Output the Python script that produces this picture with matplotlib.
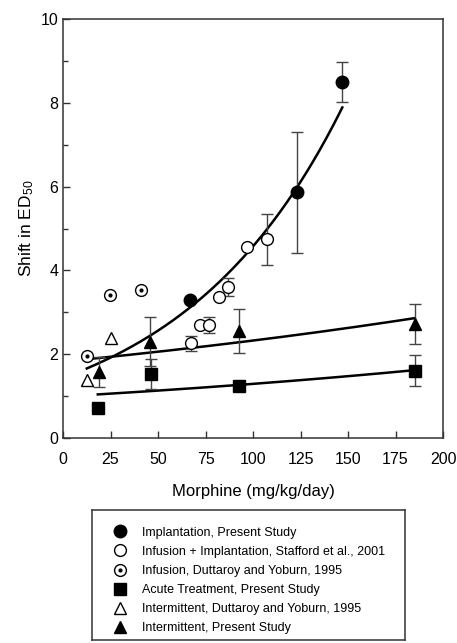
import numpy as np
import matplotlib
matplotlib.use("Agg")
import matplotlib.pyplot as plt
from matplotlib.ticker import MultipleLocator

plt.rcParams['font.family'] = ['Liberation Sans', 'DejaVu Sans']
plt.rcParams['mathtext.default'] = 'regular'

# Implantation, Present Study (filled circles)
impl_x = [67, 123, 147]
impl_y = [3.29, 5.86, 8.50]
impl_err = [0.0, 1.44, 0.48]

# Infusion + Implantation, Stafford et al., 2001 (open circles)
staf_x = [67.2, 72.1, 77.0, 82.3, 87.0, 97.0, 107.2]
staf_y = [2.26, 2.70, 2.70, 3.37, 3.60, 4.57, 4.74]
staf_err = [0.18, 0.0, 0.20, 0.0, 0.21, 0.0, 0.60]

# Infusion, Duttaroy and Yoburn, 1995 (dotted circles)
dutt_inf_x = [12.5, 24.7, 41.0]
dutt_inf_y = [1.96, 3.41, 3.53]

# Acute Treatment, Present Study (filled squares)
acute_x = [18.2, 46.2, 92.6, 185.3]
acute_y = [0.72, 1.52, 1.25, 1.61]
acute_err = [0.0, 0.36, 0.11, 0.37]

# Intermittent, Duttaroy and Yoburn, 1995 (open triangles)
dutt_int_x = [12.5, 25.1]
dutt_int_y = [1.38, 2.38]

# Intermittent, Present Study (filled triangles)
inter_x = [18.9, 45.8, 92.6, 185.3]
inter_y = [1.58, 2.30, 2.55, 2.72]
inter_err = [0.36, 0.58, 0.53, 0.48]

# fitted curves y = a*exp(b*x): (a, b, x_start, x_end)
fit_impl = (1.436, 0.01159, 12.5, 147)
fit_inter = (1.824, 0.002432, 12.5, 185)
fit_acute = (0.991, 0.002654, 18.3, 185)

fig = plt.figure(figsize=(4.57, 6.43), dpi=100)
ax = fig.add_axes([0.1379, 0.3188, 0.8315, 0.6516])

for a, b, x0, x1 in (fit_impl, fit_inter, fit_acute):
    xs = np.linspace(x0, x1, 200)
    ax.plot(xs, a * np.exp(b * xs), color='black', lw=1.8, zorder=2)

ekw = dict(fmt='none', ecolor='#444444', elinewidth=1.0, capsize=4.5, capthick=1.0, zorder=3)
ax.errorbar(impl_x, impl_y, yerr=impl_err, **ekw)
ax.errorbar(staf_x, staf_y, yerr=staf_err, **ekw)
ax.errorbar(acute_x, acute_y, yerr=acute_err, **ekw)
ax.errorbar(inter_x, inter_y, yerr=inter_err, **ekw)

h1, = ax.plot(impl_x, impl_y, 'o', ms=9, mfc='black', mec='black', ls='none', zorder=4)
h2, = ax.plot(staf_x, staf_y, 'o', ms=8.5, mfc='white', mec='black', mew=1.0, ls='none', zorder=4)
h3a, = ax.plot(dutt_inf_x, dutt_inf_y, 'o', ms=8.5, mfc='white', mec='black', mew=1.0, ls='none', zorder=4)
h3b, = ax.plot(dutt_inf_x, dutt_inf_y, 'o', ms=2, mfc='black', mec='black', ls='none', zorder=5)
h4, = ax.plot(acute_x, acute_y, 's', ms=8, mfc='black', mec='black', ls='none', zorder=4)
h5, = ax.plot(dutt_int_x, dutt_int_y, '^', ms=8.5, mfc='white', mec='black', mew=1.0, ls='none', zorder=4)
h6, = ax.plot(inter_x, inter_y, '^', ms=9, mfc='black', mec='black', ls='none', zorder=4)

ax.set_xlim(0, 200)
ax.set_ylim(0, 10)
ax.xaxis.set_major_locator(MultipleLocator(25))
ax.yaxis.set_major_locator(MultipleLocator(2))
ax.yaxis.set_minor_locator(MultipleLocator(1))
ax.tick_params(which='both', direction='in', color='#333333', labelsize=11.5, width=1)
ax.tick_params(which='major', length=5)
ax.tick_params(which='minor', length=3.5)
ax.tick_params(axis='x', pad=10)
for s in ax.spines.values():
    s.set_color('#333333')
    s.set_linewidth(1.1)

ax.set_xlabel('Morphine (mg/kg/day)', fontsize=12, labelpad=12)
ax.set_ylabel('Shift in ED$_{50}$', fontsize=12.5, labelpad=3)

# legend box
lax = fig.add_axes([92 / 457, 1 - 640 / 643, (405 - 92) / 457, 130 / 643])
lax.set_xticks([])
lax.set_yticks([])
for s in lax.spines.values():
    s.set_color('#333333')
    s.set_linewidth(1.1)
labels = ['Implantation, Present Study',
          'Infusion + Implantation, Stafford et al., 2001',
          'Infusion, Duttaroy and Yoburn, 1995',
          'Acute Treatment, Present Study',
          'Intermittent, Duttaroy and Yoburn, 1995',
          'Intermittent, Present Study']
lax.legend([h1, h2, (h3a, h3b), h4, h5, h6], labels, loc='upper left',
           bbox_to_anchor=(0.065, 0.872), frameon=False, fontsize=9,
           handlelength=1.2, handletextpad=1.15, labelspacing=0.57,
           borderaxespad=0, borderpad=0)

fig.savefig('out.png', dpi=100)
